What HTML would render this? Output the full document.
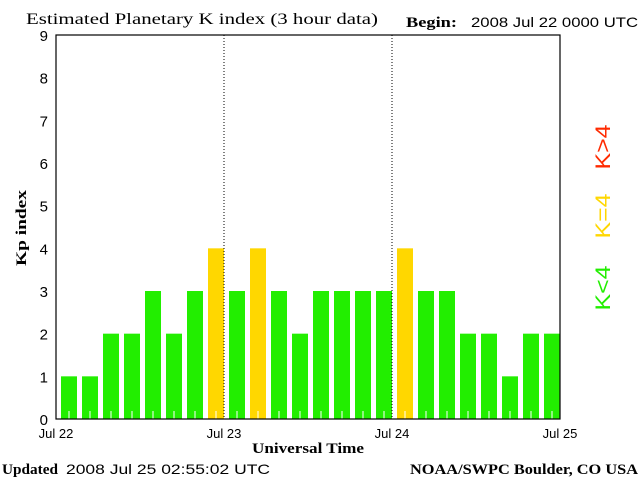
<!DOCTYPE html>
<html><head><meta charset="utf-8"><style>
body{margin:0;background:#fff;width:640px;height:480px;overflow:hidden}
</style></head><body>
<svg id="c" width="640" height="480" font-family="Liberation Sans, sans-serif">
<text x="26" y="24" font-family="Liberation Serif, serif" font-size="16" textLength="352" lengthAdjust="spacingAndGlyphs">Estimated Planetary K index (3 hour data)</text>
<text x="406" y="27" font-family="Liberation Serif, serif" font-size="15" font-weight="bold" textLength="51" lengthAdjust="spacingAndGlyphs">Begin:</text>
<text x="471" y="27" font-size="14" textLength="167" lengthAdjust="spacingAndGlyphs">2008 Jul 22 0000 UTC</text>
<text transform="translate(26,228) rotate(-90)" text-anchor="middle" font-family="Liberation Serif, serif" font-weight="bold" font-size="15" textLength="76" lengthAdjust="spacingAndGlyphs">Kp index</text>
<text x="252" y="453" font-family="Liberation Serif, serif" font-weight="bold" font-size="15" textLength="112" lengthAdjust="spacingAndGlyphs">Universal Time</text>
<text x="2" y="474" font-family="Liberation Serif, serif" font-weight="bold" font-size="15" textLength="56" lengthAdjust="spacingAndGlyphs">Updated</text>
<text x="66" y="474" font-size="14" textLength="204" lengthAdjust="spacingAndGlyphs">2008 Jul 25 02:55:02 UTC</text>
<text x="410" y="474" font-family="Liberation Serif, serif" font-weight="bold" font-size="15" textLength="228" lengthAdjust="spacingAndGlyphs">NOAA/SWPC Boulder, CO USA</text>
<text transform="translate(610,288) rotate(-90)" text-anchor="middle" font-size="21" fill="#22ee00" textLength="45" lengthAdjust="spacingAndGlyphs">K&lt;4</text>
<text transform="translate(610,216) rotate(-90)" text-anchor="middle" font-size="21" fill="#ffd700" textLength="45" lengthAdjust="spacingAndGlyphs">K=4</text>
<text transform="translate(610,147) rotate(-90)" text-anchor="middle" font-size="21" fill="#ff2a00" textLength="45" lengthAdjust="spacingAndGlyphs">K&gt;4</text>
<g id="g"></g>
</svg>
<script>
const kpValues=[1,1,2,2,3,2,3,4,3,4,3,2,3,3,3,3,4,3,3,2,2,1,2,2];
const yTicks=[0,1,2,3,4,5,6,7,8,9];
const dayLabels=["Jul 22","Jul 23","Jul 24","Jul 25"];
const L=56,R=560,T=35,B=419;
const ns="http://www.w3.org/2000/svg",g=document.getElementById('g');
function y(v){return B-v*(B-T)/9;}
function x(i){return L+i*(R-L)/24;}
function mk(t,a){const e=document.createElementNS(ns,t);for(const k in a)e.setAttribute(k,a[k]);g.appendChild(e);return e;}
kpValues.forEach((v,i)=>{
 const r=mk('rect',{x:x(i)+5,y:y(v),width:16,height:B-y(v),fill:v<4?'#22ee00':v==4?'#ffd700':'#ff2a00'});
 
 
 const t=mk('line',{x1:x(i)+13,x2:x(i)+13,y1:B-8,y2:B,stroke:'#fff'});
 
 
});
const fr=mk('rect',{x:L,y:T,width:R-L,height:B-T,fill:'none',stroke:'#000','stroke-width':1.2});


[1,2].forEach(d=>{const l=mk('line',{x1:x(d*8),x2:x(d*8),y1:T,y2:B,stroke:'#000','stroke-dasharray':'1,2'});
 
 });
yTicks.forEach(v=>{const t=mk('text',{x:48,y:y(v)+6,'text-anchor':'end','font-size':15});t.textContent=v;
 
 });
dayLabels.forEach((s,d)=>{const t=mk('text',{x:x(d*8),y:438,'text-anchor':'middle','font-size':13});t.textContent=s;
 
 });
</script>
</body></html>
